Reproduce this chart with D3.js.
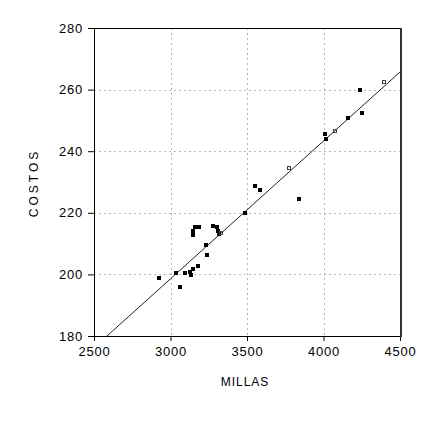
<!DOCTYPE html>
<html>
<head>
<meta charset="utf-8">
<script src="https://cdn.jsdelivr.net/npm/d3@7"></script>
<style>
  body { margin: 0; background: #fff; }
  text { font-family: "Liberation Sans", Arial, sans-serif; font-size: 12px; fill: #000; }
</style>
</head>
<body>
<svg class="main"></svg>
<script>
// data
let millas = [2925, 3062, 3036, 3095, 3127, 3147, 3134, 3180, 3232, 3239,
              3160, 3186, 3147, 3147, 3278, 3304, 3310, 3317, 3487, 3552,
              3585, 3840, 4010, 4016, 4160, 4252, 4239];
let costos = [198.8, 195.9, 200.5, 200.5, 200.8, 201.8, 199.8, 202.7, 209.5, 206.3,
              215.4, 215.4, 214.1, 212.8, 215.7, 215.4, 214.1, 213.1, 219.9, 228.7,
              227.4, 224.5, 245.6, 244.0, 250.8, 252.4, 259.9];
// points sitting on the fitted line (drawn lighter)
let millasOnLine = [3330, 3775, 4075, 4395];
let costosOnLine = [213.4, 234.5, 246.6, 262.5];
// fitted line ends
let lineX = [2585, 4500];
let lineY = [180, 265.7];

let xTicks = [2500, 3000, 3500, 4000, 4500];
let yTicks = [180, 200, 220, 240, 260, 280];

let w = 422, h = 421;
let mLeft = 94, mTop = 28, pw = 306, ph = 308;

let svg = d3.select('.main')
  .attr('width', w)
  .attr('height', h)
  .style('background-color', '#fff');

let x = d3.scaleLinear().domain([2500, 4500]).range([mLeft, mLeft + pw]);
let y = d3.scaleLinear().domain([180, 280]).range([mTop + ph, mTop]);

// grid
svg.append('g').selectAll('line')
  .data(xTicks.slice(1, -1))
  .enter().append('line')
  .attr('x1', d => Math.round(x(d)) + 0.5).attr('x2', d => Math.round(x(d)) + 0.5)
  .attr('y1', mTop).attr('y2', mTop + ph)
  .attr('stroke', '#b8b8b8').attr('stroke-dasharray', '2,3');
svg.append('g').selectAll('line')
  .data(yTicks.slice(1, -1))
  .enter().append('line')
  .attr('y1', d => Math.round(y(d)) + 0.5).attr('y2', d => Math.round(y(d)) + 0.5)
  .attr('x1', mLeft).attr('x2', mLeft + pw)
  .attr('stroke', '#b8b8b8').attr('stroke-dasharray', '2,3');

// axes
let xAxis = svg.append('g')
  .attr('transform', `translate(0,${mTop + ph})`)
  .call(d3.axisBottom(x).tickValues(xTicks).tickSize(5).tickPadding(6).tickFormat(d3.format('d')));
let yAxis = svg.append('g')
  .attr('transform', `translate(${mLeft},0)`)
  .call(d3.axisLeft(y).tickValues(yTicks).tickSize(6).tickPadding(5).tickFormat(d3.format('d')));
[xAxis, yAxis].forEach(a => {
  a.select('.domain').remove();
  a.selectAll('line').attr('stroke', '#000');
  a.selectAll('text')
    .style('font-size', '13px')
    .style('letter-spacing', '0.8px')
    .style('font-family', '"Liberation Sans", Arial, sans-serif');
});

// frame
svg.append('rect')
  .attr('x', mLeft + 0.5).attr('y', mTop + 0.5)
  .attr('width', pw).attr('height', ph)
  .attr('fill', 'none').attr('stroke', '#000');
svg.append('line')
  .attr('x1', mLeft + pw + 1).attr('x2', mLeft + pw + 1)
  .attr('y1', mTop).attr('y2', mTop + ph + 1)
  .attr('stroke', '#333').attr('stroke-width', 2);

// fitted line
svg.append('line')
  .attr('x1', x(lineX[0])).attr('y1', y(lineY[0]))
  .attr('x2', x(lineX[1])).attr('y2', y(lineY[1]))
  .attr('stroke', '#222').attr('stroke-width', 1);

// points
svg.append('g').selectAll('rect')
  .data(millas.map((m, i) => [m, costos[i]]))
  .enter().append('rect')
  .attr('x', d => Math.round(x(d[0])) - 2)
  .attr('y', d => Math.round(y(d[1])) - 2)
  .attr('width', 4).attr('height', 4)
  .attr('fill', '#000');
svg.append('g').selectAll('rect')
  .data(millasOnLine.map((m, i) => [m, costosOnLine[i]]))
  .enter().append('rect')
  .attr('x', d => Math.round(x(d[0])) - 1.5)
  .attr('y', d => Math.round(y(d[1])) - 1.5)
  .attr('width', 3).attr('height', 3)
  .attr('fill', 'none').attr('stroke', '#444');

// axis titles
svg.append('text')
  .attr('x', 245).attr('y', 386)
  .attr('text-anchor', 'middle')
  .style('font-size', '12px')
  .style('letter-spacing', '1px')
  .text('MILLAS');
svg.append('text')
  .attr('transform', `translate(38,183) rotate(-90)`)
  .attr('text-anchor', 'middle')
  .style('font-size', '12px')
  .style('letter-spacing', '3px')
  .text('COSTOS');
</script>
</body>
</html>
